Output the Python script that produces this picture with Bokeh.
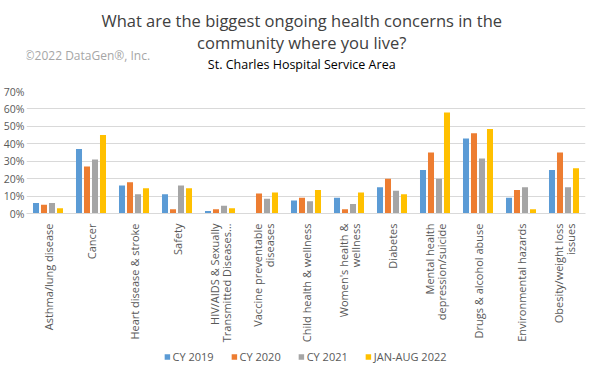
from bokeh.plotting import figure
from bokeh.layouts import column
from bokeh.models import ColumnDataSource, FactorRange, Legend, LegendItem, Label, NumeralTickFormatter, Range1d
from bokeh.transform import dodge
from bokeh.embed import file_html
from bokeh.resources import INLINE
import math

categories = [
    "Asthma/lung disease", "Cancer", "Heart disease & stroke", "Safety",
    "HIV/AIDS & Sexually\nTransmitted Diseases…", "Vaccine preventable\ndiseases",
    "Child health & wellness", "Women's health &\nwellness", "Diabetes",
    "Mental health\ndepression/suicide", "Drugs & alcohol abuse",
    "Environmental hazards", "Obesity/weight loss\nissues",
]
cy2019 = [0.06, 0.37, 0.16, 0.11, 0.015, 0.0, 0.075, 0.09, 0.15, 0.25, 0.43, 0.09, 0.25]
cy2020 = [0.05, 0.27, 0.18, 0.025, 0.025, 0.115, 0.09, 0.025, 0.20, 0.35, 0.46, 0.135, 0.35]
cy2021 = [0.06, 0.31, 0.11, 0.16, 0.045, 0.085, 0.07, 0.055, 0.13, 0.20, 0.315, 0.15, 0.15]
janaug2022 = [0.03, 0.45, 0.145, 0.145, 0.03, 0.12, 0.135, 0.12, 0.11, 0.58, 0.485, 0.025, 0.26]
series_names = ["CY 2019", "CY 2020", "CY 2021", "JAN-AUG 2022"]
y_ticks = [0, 0.1, 0.2, 0.3, 0.4, 0.5, 0.6, 0.7]

title_line1 = "What are the biggest ongoing health concerns in the"
title_line2 = "community where you live?"
subtitle = "St. Charles Hospital Service Area"
watermark = "©2022 DataGen®, Inc."

colors = ["#5B9BD5", "#ED7D31", "#A5A5A5", "#FFC000"]
FONT = "Open Sans"
W = 592

# ---------- header ----------
HH = 84
header = figure(width=W, height=HH, x_range=Range1d(0, W), y_range=Range1d(HH, 0),
                output_backend="svg", toolbar_location=None, title=None,
                min_border=0, x_axis_type=None, y_axis_type=None)
header.outline_line_color = None
header.grid.visible = False

def add_text(x, y, text, size, color, align="center"):
    header.add_layout(Label(x=x, y=y, text=text, text_font=FONT, text_font_size=size,
                            text_color=color, text_align=align, text_baseline="middle"))

add_text(292, 20, title_line1, "16.5px", "#404040")
add_text(292, 42, title_line2, "16.5px", "#404040")
add_text(292, 64, subtitle, "12.5px", "#000000")
add_text(-2, 55, watermark, "12px", "#A6A6A6", align="left")

# ---------- chart ----------
src = ColumnDataSource(dict(cat=categories, s0=cy2019, s1=cy2020, s2=cy2021, s3=janaug2022))
keys = ["s0", "s1", "s2", "s3"]

p = figure(frame_width=559, frame_height=122, x_range=FactorRange(*categories), y_range=Range1d(0, 0.7),
           output_backend="svg", toolbar_location=None, title=None,
           min_border_left=25, min_border_right=8, min_border_top=7, min_border_bottom=0)
p.outline_line_color = None

pitch = 0.186
offsets = [-1.5 * pitch, -0.5 * pitch, 0.5 * pitch, 1.5 * pitch]
for i, (key, c) in enumerate(zip(keys, colors)):
    p.vbar(x=dodge("cat", offsets[i], range=p.x_range), top=key, width=0.14,
           source=src, color=c, line_color=None)

p.x_range.range_padding = 0

p.yaxis.ticker = y_ticks
p.yaxis.formatter = NumeralTickFormatter(format="0%")
p.yaxis.axis_line_color = None
p.yaxis.major_tick_line_color = None
p.yaxis.minor_tick_line_color = None
p.yaxis.major_tick_out = 0
p.yaxis.major_label_text_font = FONT
p.yaxis.major_label_text_font_size = "10.5px"
p.yaxis.major_label_text_color = "#595959"
p.yaxis.major_label_standoff = 2

p.xaxis.axis_line_color = "#D9D9D9"
p.xaxis.major_tick_line_color = None
p.xaxis.minor_tick_line_color = None
p.xaxis.major_tick_out = 0
p.xaxis.major_label_orientation = math.pi / 2
p.xaxis.major_label_text_font = FONT
p.xaxis.major_label_text_font_size = "11px"
p.xaxis.major_label_text_color = "#595959"
p.xaxis.major_label_text_line_height = 0.8
p.xaxis.major_label_standoff = 10

p.xgrid.grid_line_color = None
p.ygrid.grid_line_color = "#D9D9D9"
p.ygrid.ticker = y_ticks

# ---------- legend footer (same series; view window set outside the bars) ----------
footer = figure(width=W, height=20, x_range=FactorRange(*categories), y_range=Range1d(1, 2),
                output_backend="svg", toolbar_location=None, title=None,
                min_border=0, x_axis_type=None, y_axis_type=None)
footer.outline_line_color = None
footer.grid.visible = False
proxies = [footer.vbar(x=dodge("cat", offsets[i], range=footer.x_range), top=k, width=0.14,
                       source=src, color=c, line_color=None)
           for i, (k, c) in enumerate(zip(keys, colors))]
legend = Legend(items=[LegendItem(label=n, renderers=[r]) for n, r in zip(series_names, proxies)],
                orientation="horizontal", location="bottom_center",
                label_text_font=FONT, label_text_font_size="11px", label_text_color="#595959",
                label_height=12, glyph_width=7, glyph_height=7, spacing=17, label_standoff=2,
                border_line_color=None, background_fill_alpha=0, padding=0, margin=1)
footer.add_layout(legend, "center")

layout = column(header, p, footer, spacing=0)
open("out.html", "w").write(file_html(layout, INLINE))
